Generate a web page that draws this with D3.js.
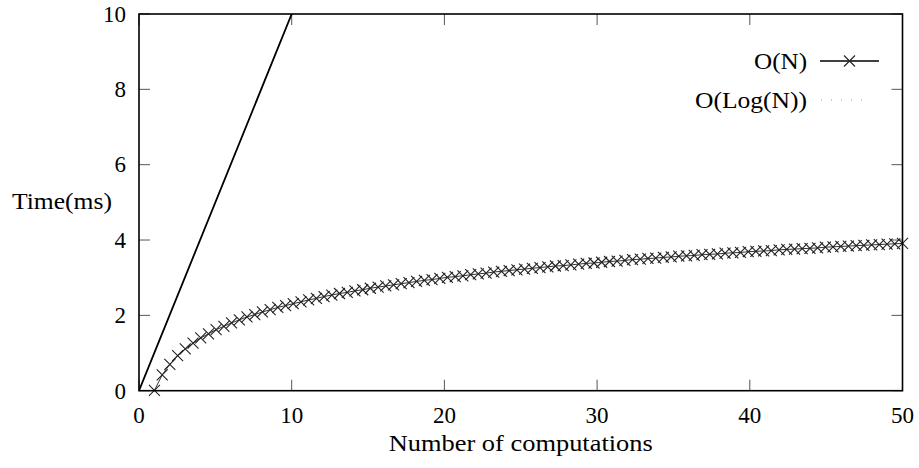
<!DOCTYPE html>
<html>
<head>
<meta charset="utf-8">
<script src="https://cdn.jsdelivr.net/npm/d3@7"></script>
<style>
  html, body { margin: 0; padding: 0; background: #fff; }
  svg { display: block; }
  text { font-family: "Liberation Serif", "Times New Roman", serif; fill: #000; }
</style>
</head>
<body>
<svg id="chart" width="919" height="468"></svg>
<script>
// ---- data ----
const seriesNames = ["O(N)", "O(Log(N))"];
const linearX = [0, 10, 20, 30, 40, 50];
const linearY = [0, 10, 20, 30, 40, 50];
const logX = [1.01, 1.52, 2.02, 2.53, 3.03, 3.54, 4.04, 4.55, 5.05, 5.56,
  6.06, 6.57, 7.07, 7.58, 8.08, 8.59, 9.09, 9.60, 10.10, 10.61,
  11.11, 11.62, 12.12, 12.63, 13.13, 13.64, 14.14, 14.65, 15.15, 15.66,
  16.16, 16.67, 17.17, 17.68, 18.18, 18.69, 19.19, 19.70, 20.20, 20.71,
  21.21, 21.72, 22.22, 22.73, 23.23, 23.74, 24.24, 24.75, 25.25, 25.76,
  26.26, 26.77, 27.27, 27.78, 28.28, 28.79, 29.29, 29.80, 30.30, 30.81,
  31.31, 31.82, 32.32, 32.83, 33.33, 33.84, 34.34, 34.85, 35.35, 35.86,
  36.36, 36.87, 37.37, 37.88, 38.38, 38.89, 39.39, 39.90, 40.40, 40.91,
  41.41, 41.92, 42.42, 42.93, 43.43, 43.94, 44.44, 44.95, 45.45, 45.96,
  46.46, 46.97, 47.47, 47.98, 48.48, 48.99, 49.49, 50.00];
const logY = [0.01, 0.42, 0.70, 0.93, 1.11, 1.26, 1.40, 1.51, 1.62, 1.71,
  1.80, 1.88, 1.96, 2.02, 2.09, 2.15, 2.21, 2.26, 2.31, 2.36,
  2.41, 2.45, 2.50, 2.54, 2.58, 2.61, 2.65, 2.68, 2.72, 2.75,
  2.78, 2.81, 2.84, 2.87, 2.90, 2.93, 2.95, 2.98, 3.01, 3.03,
  3.05, 3.08, 3.10, 3.12, 3.15, 3.17, 3.19, 3.21, 3.23, 3.25,
  3.27, 3.29, 3.31, 3.32, 3.34, 3.36, 3.38, 3.39, 3.41, 3.43,
  3.44, 3.46, 3.48, 3.49, 3.51, 3.52, 3.54, 3.55, 3.57, 3.58,
  3.59, 3.61, 3.62, 3.63, 3.65, 3.66, 3.67, 3.69, 3.70, 3.71,
  3.72, 3.74, 3.75, 3.76, 3.77, 3.78, 3.79, 3.81, 3.82, 3.83,
  3.84, 3.85, 3.86, 3.87, 3.88, 3.89, 3.90, 3.91];
const xTicks = [0, 10, 20, 30, 40, 50];
const yTicks = [0, 2, 4, 6, 8, 10];
const xLabel = "Number of computations";
const yLabel = "Time(ms)";

// ---- layout ----
const svg = d3.select("#chart");
const L = 139, R = 902.5, T = 14, B = 390.7;
const FS = 23;
const x = d3.scaleLinear().domain([0, 50]).range([L, R]);
const y = d3.scaleLinear().domain([0, 10]).range([B, T]);

svg.append("defs").append("clipPath").attr("id", "plotclip")
  .append("rect").attr("x", L).attr("y", T).attr("width", R - L).attr("height", B - T);

// ticks (inward, mirrored)
const tickLen = 11;
const tg = svg.append("g").attr("stroke", "#555").attr("stroke-width", 1);
xTicks.forEach(v => {
  tg.append("line").attr("x1", x(v)).attr("x2", x(v)).attr("y1", B).attr("y2", B - tickLen);
  tg.append("line").attr("x1", x(v)).attr("x2", x(v)).attr("y1", T).attr("y2", T + tickLen);
});
yTicks.forEach(v => {
  tg.append("line").attr("x1", L).attr("x2", L + tickLen).attr("y1", y(v)).attr("y2", y(v));
  tg.append("line").attr("x1", R).attr("x2", R - tickLen).attr("y1", y(v)).attr("y2", y(v));
});

// tick labels
svg.append("g").selectAll("text").data(xTicks).join("text")
  .attr("x", d => x(d)).attr("y", B + 32)
  .attr("text-anchor", "middle").attr("font-size", FS)
  .text(d => d);
svg.append("g").selectAll("text").data(yTicks).join("text")
  .attr("x", 126).attr("y", d => y(d) + 7.8)
  .attr("text-anchor", "end").attr("font-size", FS)
  .text(d => d);

// axis labels
svg.append("text").attr("x", 62).attr("y", 209)
  .attr("text-anchor", "middle").attr("font-size", FS)
  .attr("textLength", 100).attr("lengthAdjust", "spacingAndGlyphs")
  .text(yLabel);
svg.append("text").attr("x", (x(0) + x(50)) / 2).attr("y", 451)
  .attr("text-anchor", "middle").attr("font-size", FS)
  .attr("textLength", 264).attr("lengthAdjust", "spacingAndGlyphs")
  .text(xLabel);

// plot
const plot = svg.append("g").attr("clip-path", "url(#plotclip)");
const linData = linearX.map((v, i) => [v, linearY[i]]);
const logData = logX.map((v, i) => [v, logY[i]]);
const line = d3.line().x(d => x(d[0])).y(d => y(d[1]));

plot.append("path").datum(linData).attr("d", line)
  .attr("fill", "none").attr("stroke", "#000").attr("stroke-width", 1.8);

plot.append("path").datum(logData).attr("d", line)
  .attr("fill", "none").attr("stroke", "#333").attr("stroke-width", 1);

const cs = 5.5;
function cross(g, cx, cy) {
  g.append("path")
    .attr("d", `M${cx - cs},${cy - cs}L${cx + cs},${cy + cs}M${cx - cs},${cy + cs}L${cx + cs},${cy - cs}`)
    .attr("stroke", "#222").attr("stroke-width", 1.1).attr("fill", "none");
}
const cg = svg.append("g");
logData.forEach(d => cross(cg, x(d[0]), y(d[1])));

// frame
svg.append("rect").attr("x", L).attr("y", T).attr("width", R - L).attr("height", B - T)
  .attr("fill", "none").attr("stroke", "#000").attr("stroke-width", 1.6);

// legend
const legRows = [61, 100];
svg.append("text").attr("x", 807).attr("y", legRows[0] + 8).attr("text-anchor", "end")
  .attr("font-size", FS).attr("textLength", 53).attr("lengthAdjust", "spacingAndGlyphs")
  .text(seriesNames[0]);
svg.append("text").attr("x", 807).attr("y", legRows[1] + 8).attr("text-anchor", "end")
  .attr("font-size", FS).attr("textLength", 112).attr("lengthAdjust", "spacingAndGlyphs")
  .text(seriesNames[1]);
svg.append("line").attr("x1", 820).attr("x2", 879).attr("y1", legRows[0]).attr("y2", legRows[0])
  .attr("stroke", "#000").attr("stroke-width", 1.3);
cross(svg, 849.5, legRows[0]);
svg.append("line").attr("x1", 821).attr("x2", 871).attr("y1", legRows[1]).attr("y2", legRows[1])
  .attr("stroke", "#999").attr("stroke-width", 1).attr("stroke-dasharray", "1,9");
</script>
</body>
</html>
